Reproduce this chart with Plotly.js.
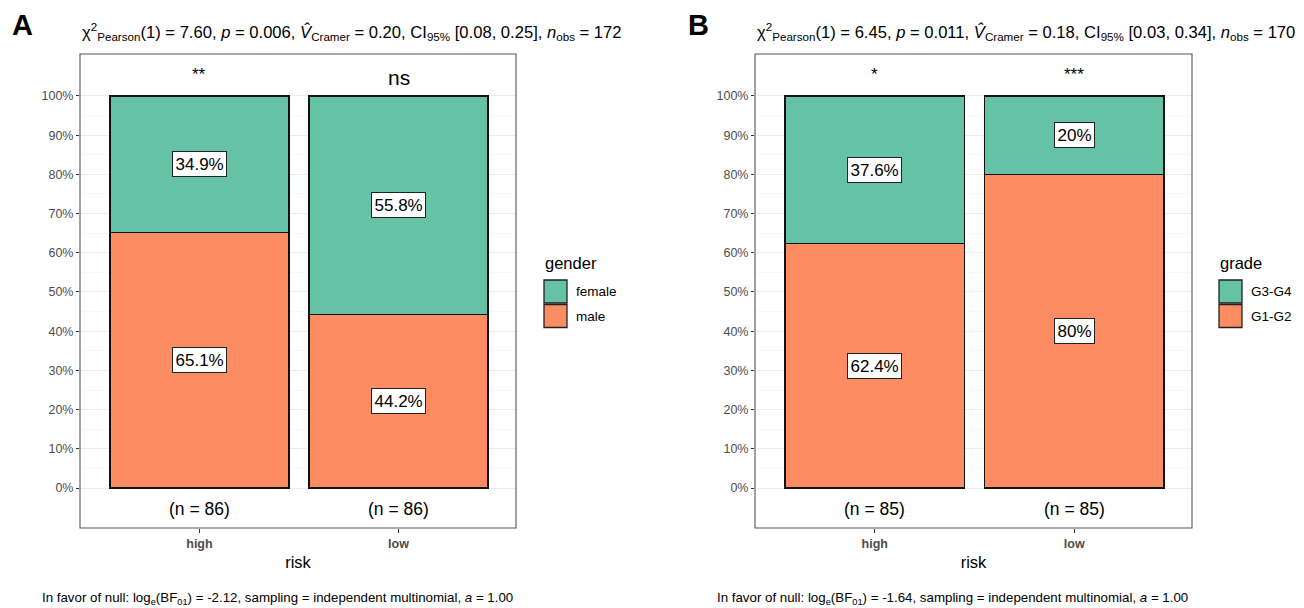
<!DOCTYPE html>
<html><head><meta charset="utf-8">
<script src="https://cdn.plot.ly/plotly-3.0.1.min.js"></script>
<style>body{margin:0;background:#fff}#chart{width:1304px;height:608px}</style>
</head><body><div id="chart"></div>
<script>
// ---- data ----
const categories = ['high', 'low'];
// Panel A (gender)
const aLevels = ['female', 'male'];
const aFemale = [34.9, 55.8];
const aMale = [65.1, 44.2];
const aFemaleLabels = ['34.9%', '55.8%'];
const aMaleLabels = ['65.1%', '44.2%'];
const aSig = ['**', 'ns'];
const aN = ['(n = 86)', '(n = 86)'];
// Panel B (grade)
const bLevels = ['G3-G4', 'G1-G2'];
const bHigh = [37.6, 20];   // G3-G4
const bLow = [62.4, 80];    // G1-G2
const bHighLabels = ['37.6%', '20%'];
const bLowLabels = ['62.4%', '80%'];
const bSig = ['*', '***'];
const bN = ['(n = 85)', '(n = 85)'];
const yTicks = [0,10,20,30,40,50,60,70,80,90,100];
const yTickText = yTicks.map(v => v + '%');
const yMinor = [5,15,25,35,45,55,65,75,85,95];

const teal = '#66C2A5', orange = '#FC8D62';
const W = 1304, H = 608;
const FONT = 'Liberation Sans, Arial, sans-serif';

function barTrace(xa, ya, y, color, name) {
  return {type:'bar', x: categories, y: y, xaxis: xa, yaxis: ya, name: name,
    width: 0.9, marker:{color: color, line:{color:'#111', width:1.4}},
    hoverinfo:'skip', showlegend:false};
}
const data = [
  barTrace('x','y', aMale, orange, aLevels[1]),
  barTrace('x','y', aFemale, teal, aLevels[0]),
  barTrace('x2','y2', bLow, orange, bLevels[1]),
  barTrace('x2','y2', bHigh, teal, bLevels[0])
];

function yAxis(anchor) {
  return {domain:[1-528/H, 1-54/H], range:[-10.2, 110.7], anchor: anchor,
    tickmode:'array', tickvals: yTicks, ticktext: yTickText,
    tickfont:{size:12.5, color:'#4d4d4d', family:FONT},
    ticks:'outside', ticklen:3, tickcolor:'#333', tickwidth:1,
    showgrid:true, gridcolor:'#ebebeb', gridwidth:1, zeroline:false,
    minor:{tickmode:'array', tickvals:yMinor, showgrid:true, gridcolor:'#f3f3f3', gridwidth:0.6, ticks:''},
    showline:false, fixedrange:true};
}
function xAxis(d0, d1, anchor) {
  return {domain:[d0/W, d1/W], range:[-0.6, 1.59], anchor: anchor, type:'category',
    tickfont:{size:12.5, color:'#4d4d4d', family:FONT, weight:'bold'},
    ticks:'outside', ticklen:4, tickcolor:'#333', tickwidth:1,
    showgrid:false, zeroline:false, showline:false,
    title:{text:'risk', font:{size:16.5, color:'#000', family:FONT}, standoff:6},
    fixedrange:true};
}

const ann = [];
const boxFont = {size:17, color:'#000', family:FONT};
function addPanel(xa, ya, bottom, top, bottomLabels, topLabels, sig, nlab) {
  categories.forEach((c, i) => {
    ann.push({xref:xa, yref:ya, x:c, y: bottom[i]/2, text: bottomLabels[i], showarrow:false,
      font:boxFont, bgcolor:'#fff', bordercolor:'#222', borderwidth:1, borderpad:2.5});
    ann.push({xref:xa, yref:ya, x:c, y: bottom[i] + top[i]/2, text: topLabels[i], showarrow:false,
      font:boxFont, bgcolor:'#fff', bordercolor:'#222', borderwidth:1, borderpad:2.5});
    ann.push({xref:xa, yref:ya, x:c, y: sig[i]==='ns' ? 104.8 : 105.5, text: sig[i], showarrow:false,
      font:{size: sig[i]==='ns' ? 21 : 17, color:'#000', family:FONT}});
    ann.push({xref:xa, yref:ya, x:c, y:-5.4, text: nlab[i], showarrow:false,
      font:{size:17.5, color:'#000', family:FONT}});
  });
}
addPanel('x','y', aMale, aFemale, aMaleLabels, aFemaleLabels, aSig, aN);
addPanel('x2','y2', bLow, bHigh, bLowLabels, bHighLabels, bSig, bN);

// panel letters
ann.push({xref:'paper', yref:'paper', x:10/W, y:1-25/H, xanchor:'left', yanchor:'middle', text:'<b>A</b>', showarrow:false, font:{size:29, color:'#000', family:FONT}});
ann.push({xref:'paper', yref:'paper', x:686/W, y:1-25/H, xanchor:'left', yanchor:'middle', text:'<b>B</b>', showarrow:false, font:{size:29, color:'#000', family:FONT}});
// subtitles
const subA = 'χ<sup>2</sup><sub>Pearson</sub>(1) = 7.60, <i>p</i> = 0.006, <i>V̂</i><sub>Cramer</sub> = 0.20, CI<sub>95%</sub> [0.08, 0.25], <i>n</i><sub>obs</sub> = 172';
const subB = 'χ<sup>2</sup><sub>Pearson</sub>(1) = 6.45, <i>p</i> = 0.011, <i>V̂</i><sub>Cramer</sub> = 0.18, CI<sub>95%</sub> [0.03, 0.34], <i>n</i><sub>obs</sub> = 170';
ann.push({xref:'paper', yref:'paper', x:80/W, y:1-32/H, xanchor:'left', yanchor:'middle', text:subA, showarrow:false, font:{size:16.6, color:'#000', family:FONT}});
ann.push({xref:'paper', yref:'paper', x:755/W, y:1-32/H, xanchor:'left', yanchor:'middle', text:subB, showarrow:false, font:{size:16.6, color:'#000', family:FONT}});
// captions
const capA = 'In favor of null: log<sub>e</sub>(BF<sub>01</sub>) = -2.12, sampling = independent multinomial, <i>a</i> = 1.00';
const capB = 'In favor of null: log<sub>e</sub>(BF<sub>01</sub>) = -1.64, sampling = independent multinomial, <i>a</i> = 1.00';
ann.push({xref:'paper', yref:'paper', x:40/W, y:1-598/H, xanchor:'left', yanchor:'middle', text:capA, showarrow:false, font:{size:13.3, color:'#000', family:FONT}});
ann.push({xref:'paper', yref:'paper', x:715/W, y:1-598/H, xanchor:'left', yanchor:'middle', text:capB, showarrow:false, font:{size:13.3, color:'#000', family:FONT}});

// legends (drawn as keys in paper space)
const shapes = [];
function legend(x0, title, levels, colors) {
  ann.push({xref:'paper', yref:'paper', x:x0/W, y:1-263/H, xanchor:'left', yanchor:'middle', text:title, showarrow:false, font:{size:16.5, color:'#000', family:FONT}});
  levels.forEach((lv, i) => {
    const top = 280 + i*24.5;
    shapes.push({type:'rect', xref:'paper', yref:'paper', x0:(x0+1)/W, x1:(x0+24)/W, y0:1-top/H, y1:1-(top+23)/H,
      fillcolor: colors[i], line:{color:'#222', width:1.3}});
    ann.push({xref:'paper', yref:'paper', x:(x0+31)/W, y:1-(top+11.5)/H, xanchor:'left', yanchor:'middle', text:lv, showarrow:false, font:{size:13.5, color:'#000', family:FONT}});
  });
}
legend(543, 'gender', aLevels, [teal, orange]);
legend(1218, 'grade', bLevels, [teal, orange]);

// panel borders
shapes.push({type:'rect', xref:'x domain', yref:'y domain', x0:0, x1:1, y0:0, y1:1, line:{color:'#555', width:1.1}, fillcolor:'rgba(0,0,0,0)', layer:'above'});
shapes.push({type:'rect', xref:'x2 domain', yref:'y2 domain', x0:0, x1:1, y0:0, y1:1, line:{color:'#555', width:1.1}, fillcolor:'rgba(0,0,0,0)', layer:'above'});

const layout = {
  width: W, height: H, margin:{l:0, r:0, t:0, b:0},
  paper_bgcolor:'#fff', plot_bgcolor:'#fff',
  barmode:'stack', bargap:0.1, showlegend:false,
  font:{family:FONT, color:'#000'},
  xaxis: xAxis(80, 516, 'y'),
  yaxis: yAxis('x'),
  xaxis2: xAxis(755, 1192, 'y2'),
  yaxis2: yAxis('x2'),
  annotations: ann, shapes: shapes
};
Plotly.newPlot('chart', data, layout, {displayModeBar:false, staticPlot:true});
</script></body></html>
